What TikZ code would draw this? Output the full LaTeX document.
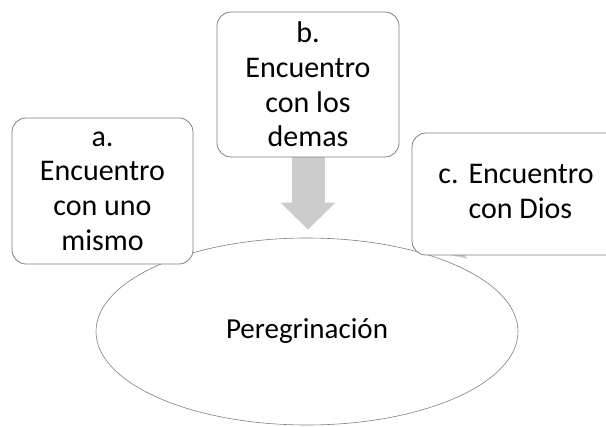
\documentclass[tikz,border=0pt]{standalone}
\usepackage{fontspec}
\setmainfont{Carlito}
\usetikzlibrary{arrows.meta, positioning, shapes.geometric, backgrounds}

\begin{document}
\begin{tikzpicture}[x=1pt, y=-1pt,
                box/.style={rectangle,
                rounded corners=14pt,
                draw=gray,
                fill=white,
                line width=0.8pt,
                inner sep=0pt,
                font=\fontsize{30}{34.7}\selectfont,
                align=center},
                oval/.style={ellipse,
                draw=gray,
                fill=white,
                line width=0.6pt,
                inner sep=0pt,
                minimum width=422pt,
                minimum height=187pt,
                font=\fontsize{29}{34}\selectfont},
                blockarr/.style={-{Triangle[length=27pt, width=53pt]},
                line width=33pt, draw=gray!40}]
                \useasboundingbox (0,0) rectangle (606,427);
                \node[oval] (pereg) at (307,331.5) {Peregrinación};
                \node[box, minimum width=181pt, minimum height=146pt]
                    (mismo) at (102.5,191)
                    {a.\\ Encuentro\\ con uno\\ mismo};
                \node[box, minimum width=182pt, minimum height=145pt]
                    (demas) at (308,84.5)
                    {b.\\ Encuentro\\ con los\\ demas};
                \node[box, minimum width=208pt, minimum height=122pt]
                    (dios) at (516,194)
                    {\begin{tabular}{@{}l@{\hspace{10pt}}l@{}}
                     c. & Encuentro\\
                        & con Dios
                     \end{tabular}};
                \begin{scope}[on background layer]
                \draw[blockarr, shorten >=8pt] (demas.south)--(demas.south |- pereg.north);
                \draw[blockarr, shorten >=147pt] (dios.center)--(pereg.center);
                \end{scope}
            \end{tikzpicture}
\end{document}
